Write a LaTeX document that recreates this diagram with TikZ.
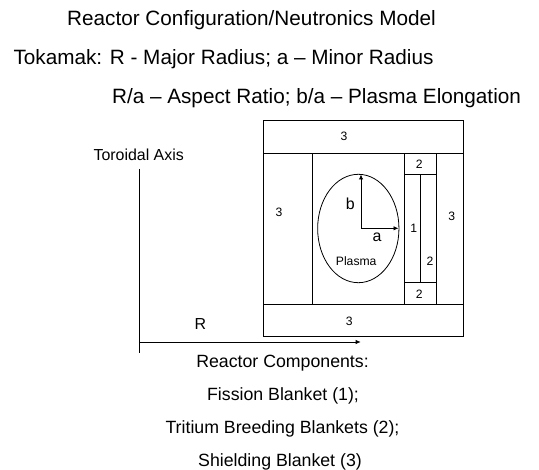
\documentclass[tikz,border=0pt]{standalone}
\usepackage{fontspec}
\setmainfont{Liberation Sans}
\usetikzlibrary{arrows.meta,shapes.geometric}
\tikzset{
  big/.style={inner sep=0pt,anchor=base,font=\fontsize{20.8}{24}\selectfont},
  caption/.style={inner sep=0pt,anchor=base,font=\fontsize{17.8}{20}\selectfont},
  axislabel/.style={inner sep=0pt,anchor=base,font=\fontsize{16}{18}\selectfont},
  small/.style={inner sep=0pt,anchor=base,font=\fontsize{12.2}{14}\selectfont},
  wall/.style={draw=black,line width=0.8pt},
  arr/.style={wall,-{Latex[length=5pt,width=4.5pt]}}
}
\begin{document}
\begin{tikzpicture}[x=1bp,y=-1bp]
\useasboundingbox (0,0) rectangle (539,470);
\node[big] (t1) at (251.5,26) {Reactor Configuration/Neutronics Model};
\node[big] (t2) at (223.5,65) {Tokamak: R - Major Radius; a -- Minor Radius};
\node[big] (t3) at (316.5,103.5) {R/a -- Aspect Ratio; b/a -- Plasma Elongation};
\draw[wall] (263.7,120.3) rectangle (463.7,336.7);
\draw[wall] (263.7,153.3) -- (463.7,153.3);
\draw[wall] (263.7,304) -- (463.7,304);
\draw[wall] (312.3,153.3) -- (312.3,304);
\draw[wall] (404,153.3) -- (404,304);
\draw[wall] (436.3,153.3) -- (436.3,304);
\draw[wall] (404,174.3) -- (436.3,174.3);
\draw[wall] (404,282.7) -- (436.3,282.7);
\draw[wall] (420.3,174.3) -- (420.3,282.7);
\node[wall,ellipse,minimum width=81.3bp,minimum height=108.4bp,inner sep=0pt] (plasma) at (358.3,228.5) {};
\coordinate (o) at (361,228.3);
\coordinate (ot) at (361,174.5);
\coordinate (or) at (398.5,228.3);
\draw[arr] (o) -- (ot);
\draw[arr] (o) -- (or);
\node[small] (lp) at (356.2,265.7) {Plasma};
\node[axislabel] (lb) at (350.3,210) {b};
\node[axislabel] (la) at (377,241.7) {a};
\node[small] (n1) at (344,140.7) {3};
\node[small] (n2) at (349.3,325) {3};
\node[small] (n3) at (279,216.7) {3};
\node[small] (n4) at (451.7,221) {3};
\node[small] (n5) at (419.3,169) {2};
\node[small] (n6) at (419.3,298) {2};
\node[small] (n7) at (413.8,232.8) {1};
\node[small] (n8) at (430,265.7) {2};
\coordinate (a1) at (139.7,169);
\coordinate (a2) at (139.7,352.7);
\coordinate (r1) at (139.7,342);
\coordinate (r2) at (360.7,342);
\draw[wall] (a1) -- (a2);
\draw[arr] (r1) -- (r2);
\node[axislabel] (ta) at (138.7,160.7) {Toroidal Axis};
\node[axislabel] (lr) at (200.3,329) {R};
\node[caption] (c1) at (282.5,367.5) {Reactor Components:};
\node[caption] (c2) at (283,400.7) {Fission Blanket (1);};
\node[caption] (c3) at (282.5,433) {Tritium Breeding Blankets (2);};
\node[caption] (c4) at (280,466) {Shielding Blanket (3)};
\end{tikzpicture}
\end{document}
